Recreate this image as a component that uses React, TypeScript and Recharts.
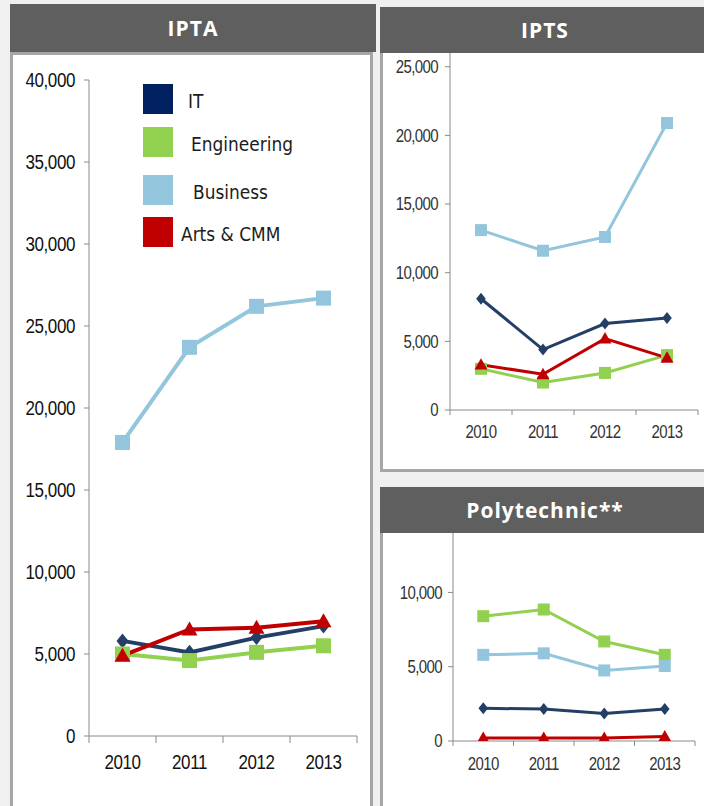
import React from 'react';
import { LineChart, Line, XAxis, YAxis, Legend } from 'recharts';

const years = ['2010', '2011', '2012', '2013'];
const seriesNames = ['IT', 'Engineering', 'Business', 'Arts & CMM'];

// IPTA
const iptaIT = [5800, 5100, 6000, 6700];
const iptaEng = [5000, 4600, 5100, 5500];
const iptaBus = [17900, 23700, 26200, 26700];
const iptaArts = [4900, 6500, 6600, 7000];

// IPTS
const iptsIT = [8100, 4400, 6300, 6700];
const iptsEng = [3000, 2000, 2700, 4000];
const iptsBus = [13100, 11600, 12600, 20900];
const iptsArts = [3300, 2600, 5200, 3800];

// Polytechnic
const polyIT = [2200, 2150, 1850, 2150];
const polyEng = [8400, 8850, 6700, 5800];
const polyBus = [5800, 5900, 4750, 5050];
const polyArts = [200, 200, 200, 300];

const iptaYTicks = [0, 5000, 10000, 15000, 20000, 25000, 30000, 35000, 40000];
const iptsYTicks = [0, 5000, 10000, 15000, 20000, 25000];
const polyYTicks = [0, 5000, 10000];
const xTicks = [0, 0.5, 1, 1.5, 2, 2.5, 3, 3.5, 4];

const lineColors = ['#243f66', '#92d050', '#93c5dc', '#c00000'];
const legendColors = ['#002060', '#92d050', '#93c5dc', '#c00000'];
const markerShapes = ['diamond', 'square', 'square', 'triangle'];
const seriesKeys = ['it', 'eng', 'bus', 'arts'];

const buildData = (it: number[], eng: number[], bus: number[], arts: number[]) =>
  years.map((year, i) => ({ x: i + 0.5, year, it: it[i], eng: eng[i], bus: bus[i], arts: arts[i] }));

const iptaData = buildData(iptaIT, iptaEng, iptaBus, iptaArts);
const iptsData = buildData(iptsIT, iptsEng, iptsBus, iptsArts);
const polyData = buildData(polyIT, polyEng, polyBus, polyArts);

const fmt = (v: number) => v.toLocaleString('en-US');
const AXIS = '#8a8a8a';
const FONT = '"Liberation Sans", Arial, sans-serif';
const STRETCH = 1.17;

const makeDot = (shape: string, color: string, size: number) => (props: any) => {
  const { cx, cy, index } = props;
  if (cx == null || cy == null) return <g key={`e${index}`} />;
  const h = size / 2;
  if (shape === 'square') {
    return <rect key={`d${index}`} x={cx - h} y={cy - h} width={size} height={size} fill={color} />;
  }
  if (shape === 'diamond') {
    const r = h + 0.5;
    return (
      <polygon
        key={`d${index}`}
        points={`${cx},${cy - r} ${cx + r * 0.8},${cy} ${cx},${cy + r} ${cx - r * 0.8},${cy}`}
        fill={color}
      />
    );
  }
  const r = h + 1;
  return (
    <polygon
      key={`d${index}`}
      points={`${cx},${cy - r} ${cx + r},${cy + r * 0.75} ${cx - r},${cy + r * 0.75}`}
      fill={color}
    />
  );
};

const makeXTick = (labelOffset: number, tickLen: number, fontSize: number, fill: string, spacing: number) => (props: any) => {
  const { x, y, payload } = props;
  const v = payload.value;
  if (Number.isInteger(v)) {
    return <line x1={x} x2={x} y1={y} y2={y + tickLen} stroke={AXIS} strokeWidth={1} />;
  }
  return (
    <text
      transform={`translate(${x},${y + labelOffset}) scale(1,${STRETCH})`}
      textAnchor="middle"
      fontSize={fontSize}
      fill={fill}
      fontFamily={FONT}
      letterSpacing={spacing}
    >
      {years[Math.floor(v)]}
    </text>
  );
};

const makeYTick = (fontSize: number, fill: string, spacing: number) => (props: any) => {
  const { x, y, payload } = props;
  return (
    <text
      transform={`translate(${x},${y}) scale(1,${STRETCH})`}
      textAnchor="end"
      dy="0.36em"
      fontSize={fontSize}
      fill={fill}
      fontFamily={FONT}
      letterSpacing={spacing}
    >
      {fmt(payload.value)}
    </text>
  );
};

const legendTops = [0, 43, 91, 133];
const legendTextLeft = [45, 48, 50, 38];

const LegendBox = () => (
  <div style={{ position: 'relative', width: 200, height: 170 }}>
    {seriesNames.map((name, i) => (
      <div key={name} style={{ position: 'absolute', left: 0, top: legendTops[i], height: 30, width: 200 }}>
        <div style={{ position: 'absolute', left: 0, top: 0, width: 30, height: 30, background: legendColors[i] }} />
        <div
          style={{
            position: 'absolute',
            left: legendTextLeft[i],
            top: 2,
            height: 30,
            lineHeight: '30px',
            fontFamily: '"DejaVu Sans", sans-serif',
            fontSize: 17,
            color: '#1c1c1c',
            whiteSpace: 'nowrap',
            transform: `scale(1, ${STRETCH})`,
            transformOrigin: 'left center',
          }}
        >
          {name}
        </div>
      </div>
    ))}
  </div>
);

type ChartProps = {
  data: any[];
  width: number;
  height: number;
  margin: { top: number; right: number; bottom: number; left: number };
  yWidth: number;
  yDomain: [number, number];
  yTicks: number[];
  fontSize: number;
  labelFill: string;
  spacing: number;
  xLabelOffset: number;
  xTickLen: number;
  yTickMargin: number;
  strokeWidth: number;
  markerSize: number;
  withLegend?: boolean;
};

const TrendChart = (p: ChartProps) => (
  <LineChart width={p.width} height={p.height} data={p.data} margin={p.margin}>
    <XAxis
      dataKey="x"
      type="number"
      domain={[0, 4]}
      ticks={xTicks}
      interval={0}
      tickSize={0}
      tickMargin={0}
      tickLine={false}
      axisLine={{ stroke: AXIS, strokeWidth: 1 }}
      tick={makeXTick(p.xLabelOffset, p.xTickLen, p.fontSize, p.labelFill, p.spacing)}
      height={30}
    />
    <YAxis
      type="number"
      domain={p.yDomain}
      ticks={p.yTicks}
      interval={0}
      width={p.yWidth}
      tickSize={5}
      tickMargin={p.yTickMargin}
      axisLine={{ stroke: AXIS, strokeWidth: 1 }}
      tickLine={{ stroke: AXIS, strokeWidth: 1 }}
      tick={makeYTick(p.fontSize, p.labelFill, p.spacing)}
      allowDataOverflow
    />
    {p.withLegend && (
      <Legend
        layout="vertical"
        align="center"
        verticalAlign="middle"
        wrapperStyle={{ position: 'absolute', left: 130, top: 29, width: 200, height: 170 }}
        content={() => <LegendBox />}
      />
    )}
    {seriesKeys.map((k, i) => (
      <Line
        key={k}
        dataKey={k}
        name={seriesNames[i]}
        type="linear"
        stroke={lineColors[i]}
        strokeWidth={p.strokeWidth}
        dot={makeDot(markerShapes[i], lineColors[i], markerShapes[i] === 'square' ? p.markerSize : p.markerSize - 1)}
        activeDot={false}
        isAnimationActive={false}
      />
    ))}
  </LineChart>
);

const headerStyle = (left: number, top: number, width: number, height: number, fontSize: number): React.CSSProperties => ({
  position: 'absolute',
  left,
  top,
  width,
  height,
  background: '#5f5f5f',
  color: '#ffffff',
  fontFamily: '"Open Sans", "DejaVu Sans", sans-serif',
  fontWeight: 700,
  fontSize,
  letterSpacing: 1,
  textAlign: 'center',
  lineHeight: `${height}px`,
});

const panelStyle = (left: number, top: number, width: number, height: number): React.CSSProperties => ({
  position: 'absolute',
  left,
  top,
  width,
  height,
  boxSizing: 'border-box',
  border: '3px solid #a6a6a6',
  background: '#ffffff',
});

const abs = (left: number, top: number): React.CSSProperties => ({ position: 'absolute', left, top });

export default function App() {
  return (
    <div
      style={{
        position: 'absolute',
        left: 0,
        top: 0,
        width: 704,
        height: 806,
        overflow: 'hidden',
        background: '#f0f0f0',
      }}
    >
      {/* IPTA */}
      <div style={panelStyle(10, 52, 363, 780)} />
      <div style={headerStyle(10, 4, 366, 48, 21)}>IPTA</div>
      <div style={abs(13, 55)}>
        <TrendChart
          data={iptaData}
          width={360}
          height={751}
          margin={{ top: 25, right: 16, bottom: 40, left: 0 }}
          yWidth={76}
          yDomain={[0, 40000]}
          yTicks={iptaYTicks}
          fontSize={17}
          labelFill="#111111"
          spacing={-0.4}
          xLabelOffset={33}
          xTickLen={7}
          yTickMargin={9}
          strokeWidth={4}
          markerSize={15}
          withLegend
        />
      </div>

      {/* IPTS */}
      <div style={panelStyle(380, 50, 340, 422)} />
      <div style={headerStyle(380, 7, 330, 46, 21)}>IPTS</div>
      <div style={abs(383, 53)}>
        <TrendChart
          data={iptsData}
          width={321}
          height={418}
          margin={{ top: 0, right: 6, bottom: 31, left: 0 }}
          yWidth={67}
          yDomain={[0, 26000]}
          yTicks={iptsYTicks}
          fontSize={15}
          labelFill="#333333"
          spacing={-0.6}
          xLabelOffset={28}
          xTickLen={5}
          yTickMargin={7}
          strokeWidth={3}
          markerSize={12}
        />
      </div>

      {/* Polytechnic */}
      <div style={panelStyle(380, 530, 340, 300)} />
      <div style={headerStyle(380, 487, 330, 46, 21)}>Polytechnic**</div>
      <div style={abs(383, 533)}>
        <TrendChart
          data={polyData}
          width={321}
          height={273}
          margin={{ top: 0, right: 9, bottom: 35, left: 0 }}
          yWidth={70}
          yDomain={[0, 14000]}
          yTicks={polyYTicks}
          fontSize={15}
          labelFill="#333333"
          spacing={-0.6}
          xLabelOffset={29}
          xTickLen={5}
          yTickMargin={6}
          strokeWidth={3}
          markerSize={12}
        />
      </div>
    </div>
  );
}
